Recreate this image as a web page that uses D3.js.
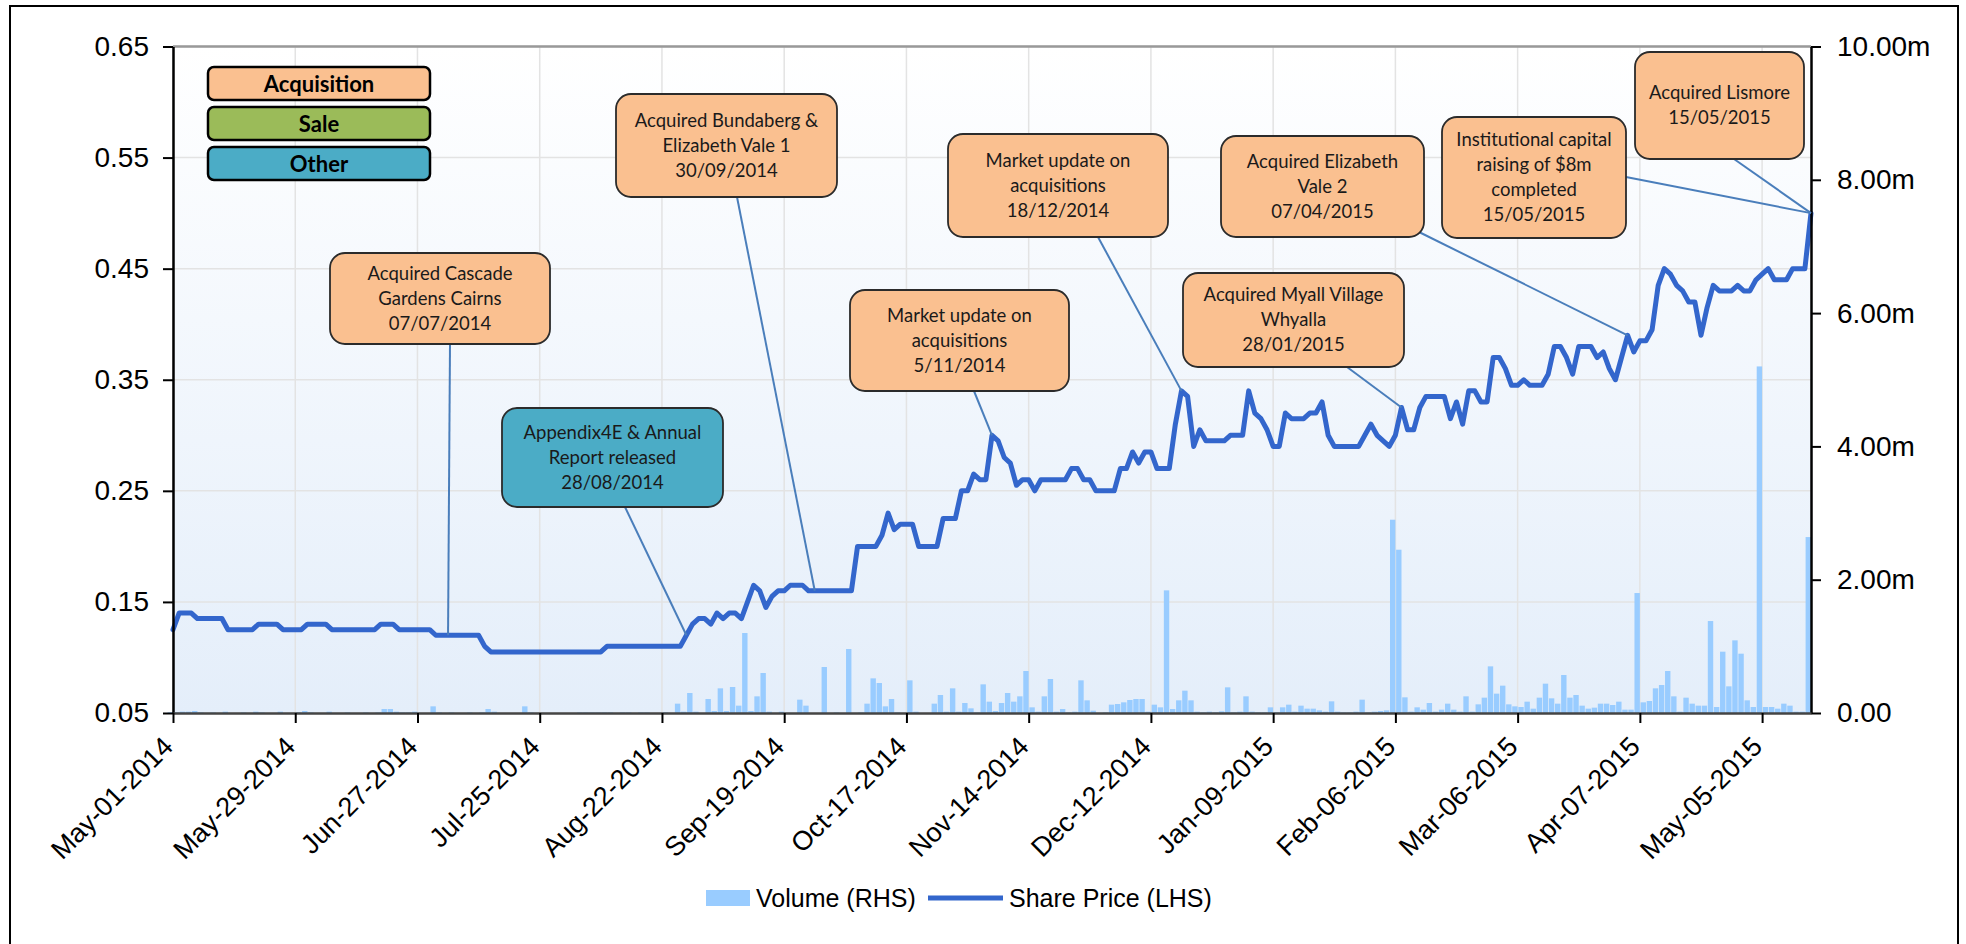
<!DOCTYPE html>
<html>
<head>
<meta charset="utf-8">
<script src="https://cdn.jsdelivr.net/npm/d3@7"></script>
<style>
  body { margin: 0; background: #fff; }
  svg { display: block; }
</style>
</head>
<body>
<svg id="chart"></svg>
<script>
const width = 1966;
const height = 944;

// trading-day series, May-01-2014 .. May-15-2015 (one value per trading day)
const sharePrice = [
  .125, .14, .14, .14, .135, .135, .135, .135, .135, .125,
  .125, .125, .125, .125, .13, .13, .13, .13, .125, .125,
  .125, .125, .13, .13, .13, .13, .125, .125, .125, .125,
  .125, .125, .125, .125, .13, .13, .13, .125, .125, .125,
  .125, .125, .125, .12, .12, .12, .12, .12, .12, .12,
  .12, .11, .105, .105, .105, .105, .105, .105, .105, .105,
  .105, .105, .105, .105, .105, .105, .105, .105, .105, .105,
  .105, .11, .11, .11, .11, .11, .11, .11, .11, .11,
  .11, .11, .11, .11, .12, .13, .135, .135, .13, .14,
  .135, .14, .14, .135, .15, .165, .16, .145, .155, .16,
  .16, .165, .165, .165, .16, .16, .16, .16, .16, .16,
  .16, .16, .2, .2, .2, .2, .21, .23, .215, .22,
  .22, .22, .2, .2, .2, .2, .225, .225, .225, .25,
  .25, .265, .26, .26, .3, .295, .28, .275, .255, .26,
  .26, .25, .26, .26, .26, .26, .26, .27, .27, .26,
  .26, .25, .25, .25, .25, .27, .27, .285, .275, .285,
  .285, .27, .27, .27, .31, .34, .335, .29, .305, .295,
  .295, .295, .295, .30, .30, .30, .34, .32, .315, .305,
  .29, .29, .32, .315, .315, .315, .32, .32, .33, .30,
  .29, .29, .29, .29, .29, .30, .31, .30, .295, .29,
  .30, .325, .305, .305, .325, .335, .335, .335, .335, .315,
  .33, .31, .34, .34, .33, .33, .37, .37, .36, .345,
  .345, .35, .345, .345, .345, .355, .38, .38, .37, .355,
  .38, .38, .38, .37, .375, .36, .35, .37, .39, .375,
  .385, .385, .395, .435, .45, .445, .435, .43, .42, .42,
  .39, .415, .435, .43, .43, .43, .435, .43, .43, .44,
  .445, .45, .44, .44, .44, .45, .45, .45, .50
];

// volume in millions of shares
const volume = [
  .01, .01, .02, .02, .03, .01, 0, .01, 0, .02,
  0, 0, .01, 0, .02, .01, 0, 0, .02, 0,
  0, .01, .03, .01, 0, 0, .02, 0, 0, .01,
  0, 0, .01, 0, .01, .06, .06, .02, .01, .01,
  .02, 0, 0, .1, .01, 0, .01, 0, 0, .01,
  0, .01, .06, .02, 0, 0, 0, 0, .1, .01,
  0, 0, 0, 0, 0, 0, 0, .01, .01, .01,
  .01, .01, .01, 0, .01, .01, 0, .01, .01, 0,
  0, .01, 0, .14, .02, .3, .02, 0, .21, .03,
  .37, .03, .39, .11, 1.2, .03, .25, .6, .02, 0,
  .02, 0, 0, .2, .11, 0, 0, .69, 0, .01,
  0, .96, 0, .01, .14, .52, .45, .1, .21, .01,
  0, .49, .02, 0, 0, .14, .27, .02, .37, .02,
  .15, .07, .01, .43, .17, .03, .15, .3, .17, .25,
  .63, .085, .02, .25, .51, .02, .06, .01, .02, .49,
  .19, .035, 0, .01, .125, .135, .16, .195, .21, .21,
  .02, .125, .085, 1.84, .06, .19, .335, .19, .02, .01,
  .02, .01, .025, .385, .01, .02, .25, .02, .01, .01,
  .085, .01, .085, .125, .02, .11, .065, .065, .04, .02,
  .175, .02, .01, .01, .02, .2, .01, .02, .03, .04,
  2.9, 2.45, .235, .02, .085, .05, .15, .02, .05, .14,
  .05, .02, .25, .02, .13, .23, .7, .29, .41, .13,
  .1, .09, .17, .065, .23, .44, .22, .14, .57, .23,
  .27, .11, .065, .08, .14, .14, .12, .17, .05, .05,
  1.8, .16, .18, .37, .42, .63, .25, .02, .23, .14,
  .11, .11, 1.38, .09, .92, .4, 1.09, .89, .19, .09,
  5.2, .09, .09, .065, .14, .11, .02, .02, 2.64
];

const dateTickLabels = ['May-01-2014', 'May-29-2014', 'Jun-27-2014', 'Jul-25-2014', 'Aug-22-2014',
  'Sep-19-2014', 'Oct-17-2014', 'Nov-14-2014', 'Dec-12-2014', 'Jan-09-2015', 'Feb-06-2015',
  'Mar-06-2015', 'Apr-07-2015', 'May-05-2015'];
const dateTickIndex = [0, 20, 40, 60, 80, 100, 120, 140, 160, 180, 200, 220, 240, 260];
const priceTicks = [0.05, 0.15, 0.25, 0.35, 0.45, 0.55, 0.65];
const volumeTicks = [0, 2, 4, 6, 8, 10];

const categories = ['Acquisition', 'Sale', 'Other'];
const categoryColor = { Acquisition: '#FAC090', Sale: '#9BBB59', Other: '#4BACC6' };

// events: text lines, category, trading-day index the pointer lands on
const eventLines = [
  ['Acquired Cascade', 'Gardens Cairns', '07/07/2014'],
  ['Appendix4E & Annual', 'Report released', '28/08/2014'],
  ['Acquired Bundaberg &', 'Elizabeth Vale 1', '30/09/2014'],
  ['Market update on', 'acquisitions', '5/11/2014'],
  ['Market update on', 'acquisitions', '18/12/2014'],
  ['Acquired Myall Village', 'Whyalla', '28/01/2015'],
  ['Acquired Elizabeth', 'Vale 2', '07/04/2015'],
  ['Institutional capital', 'raising of $8m', 'completed', '15/05/2015'],
  ['Acquired Lismore', '15/05/2015']
];
const eventType = ['Acquisition', 'Other', 'Acquisition', 'Acquisition', 'Acquisition',
  'Acquisition', 'Acquisition', 'Acquisition', 'Acquisition'];
const eventIndex = [45, 84, 105, 134, 165, 201, 238, 268, 268];

// callout box placement (pixels) and where the pointer leaves the box
const calloutBox = [
  { x: 330, y: 253, w: 220, h: 91, ax: 450, ay: 344 },
  { x: 502, y: 408, w: 221, h: 99, ax: 625, ay: 507 },
  { x: 616, y: 94, w: 221, h: 103, ax: 737, ay: 197 },
  { x: 850, y: 290, w: 219, h: 101, ax: 974, ay: 391 },
  { x: 948, y: 134, w: 220, h: 103, ax: 1098, ay: 237 },
  { x: 1183, y: 273, w: 221, h: 94, ax: 1347, ay: 367 },
  { x: 1221, y: 136, w: 203, h: 101, ax: 1419, ay: 232 },
  { x: 1442, y: 117, w: 184, h: 121, ax: 1626, ay: 177 },
  { x: 1635, y: 52, w: 169, h: 107, ax: 1734, ay: 159 }
];

const plot = { left: 173, right: 1811, top: 46.5, bottom: 713 };
const axisFont = '"Liberation Sans", Arial, sans-serif';
const boxFont = 'Lato, "Open Sans", sans-serif';

const svg = d3.select('#chart').attr('width', width).attr('height', height);

const x = d3.scaleLinear().domain([0, sharePrice.length - 1]).range([plot.left, plot.right]);
const yPrice = d3.scaleLinear().domain([0.05, 0.65]).range([plot.bottom, plot.top]);
const yVol = d3.scaleLinear().domain([0, 10]).range([plot.bottom, plot.top]);

// outer frame
svg.append('rect')
  .attr('x', 10).attr('y', 6).attr('width', 1948).attr('height', 960)
  .attr('fill', '#fff').attr('stroke', '#000').attr('stroke-width', 2);

// plot background gradient
const grad = svg.append('defs').append('linearGradient')
  .attr('id', 'bg').attr('x1', 0).attr('y1', 0).attr('x2', 0).attr('y2', 1);
grad.append('stop').attr('offset', '0%').attr('stop-color', '#FFFFFF');
grad.append('stop').attr('offset', '100%').attr('stop-color', '#E4EEFA');

svg.append('rect')
  .attr('x', plot.left).attr('y', plot.top)
  .attr('width', plot.right - plot.left).attr('height', plot.bottom - plot.top)
  .attr('fill', 'url(#bg)');

// grid
svg.append('g').selectAll('line.h').data(priceTicks).enter().append('line')
  .attr('x1', plot.left).attr('x2', plot.right)
  .attr('y1', d => yPrice(d)).attr('y2', d => yPrice(d))
  .attr('stroke', '#E3E3E3').attr('stroke-width', 1.5);
svg.append('g').selectAll('line.v').data(dateTickIndex).enter().append('line')
  .attr('x1', d => x(d)).attr('x2', d => x(d))
  .attr('y1', plot.top).attr('y2', plot.bottom)
  .attr('stroke', '#E3E3E3').attr('stroke-width', 1.5);

// volume bars
const barW = 5.4;
svg.append('g').selectAll('rect').data(volume).enter().append('rect')
  .attr('x', (d, i) => x(i) - barW)
  .attr('width', barW)
  .attr('y', d => yVol(d))
  .attr('height', d => yVol(0) - yVol(d))
  .attr('fill', '#99CCFF');

// share price line
const line = d3.line()
  .x((d, i) => x(i))
  .y(d => yPrice(d));
svg.append('path')
  .datum(sharePrice)
  .attr('d', line)
  .attr('fill', 'none')
  .attr('stroke', '#3366CC')
  .attr('stroke-width', 5)
  .attr('stroke-linejoin', 'round')
  .attr('stroke-linecap', 'round');

// top border of plot
svg.append('line')
  .attr('x1', plot.left).attr('x2', plot.right)
  .attr('y1', plot.top).attr('y2', plot.top)
  .attr('stroke', '#999').attr('stroke-width', 2.5);

// axes
const leftAxis = svg.append('g')
  .attr('transform', `translate(${plot.left},0)`)
  .call(d3.axisLeft(yPrice).tickValues(priceTicks).tickFormat(d3.format('.2f'))
    .tickSize(10).tickSizeOuter(0).tickPadding(14));

const rightAxis = svg.append('g')
  .attr('transform', `translate(${plot.right},0)`)
  .call(d3.axisRight(yVol).tickValues(volumeTicks)
    .tickFormat(d => d === 0 ? '0.00' : d3.format('.2f')(d) + 'm')
    .tickSize(10).tickSizeOuter(0).tickPadding(16));

const bottomAxis = svg.append('g')
  .attr('transform', `translate(0,${plot.bottom})`)
  .call(d3.axisBottom(x).tickValues(dateTickIndex)
    .tickFormat((d, i) => dateTickLabels[i])
    .tickSize(10).tickSizeOuter(0));

bottomAxis.selectAll('text')
  .attr('text-anchor', 'end')
  .attr('dx', 0).attr('dy', 0)
  .attr('transform', 'translate(-8,26) rotate(-45)');

[leftAxis, rightAxis, bottomAxis].forEach(g => {
  g.selectAll('text').attr('font-family', axisFont).attr('font-size', 28).attr('fill', '#000');
  g.selectAll('.tick line').attr('stroke', '#000').attr('stroke-width', 2);
  g.select('.domain').attr('stroke', '#000').attr('stroke-width', 2.5);
});
bottomAxis.selectAll('text').attr('font-size', 27);
bottomAxis.select('.domain').attr('stroke', '#444');

// event pointers
svg.append('g').selectAll('line').data(calloutBox).enter().append('line')
  .attr('x1', d => d.ax).attr('y1', d => d.ay)
  .attr('x2', (d, i) => x(eventIndex[i]))
  .attr('y2', (d, i) => yPrice(sharePrice[eventIndex[i]]))
  .attr('stroke', '#4A7EBB').attr('stroke-width', 2);

// event boxes
const boxes = svg.append('g').selectAll('g').data(calloutBox).enter().append('g');
boxes.append('rect')
  .attr('x', d => d.x).attr('y', d => d.y)
  .attr('width', d => d.w).attr('height', d => d.h)
  .attr('rx', 15).attr('ry', 15)
  .attr('fill', (d, i) => categoryColor[eventType[i]])
  .attr('stroke', '#2b2b2b').attr('stroke-width', 1.8);
boxes.each(function (d, i) {
  const lines = eventLines[i];
  const lh = 25;
  const cy = d.y + d.h / 2 - (lines.length - 1) * lh / 2;
  const t = d3.select(this).append('text')
    .attr('font-family', boxFont).attr('font-size', 18.5)
    .attr('fill', '#1a1a1a').attr('text-anchor', 'middle');
  lines.forEach((s, k) => {
    t.append('tspan')
      .attr('x', d.x + d.w / 2)
      .attr('y', cy + k * lh)
      .attr('dy', '0.35em')
      .text(s);
  });
});

// category key (top left)
const key = svg.append('g').selectAll('g').data(categories).enter().append('g')
  .attr('transform', (d, i) => `translate(208,${67 + i * 40})`);
key.append('rect')
  .attr('width', 222).attr('height', 33).attr('rx', 6)
  .attr('fill', d => categoryColor[d])
  .attr('stroke', '#000').attr('stroke-width', 2.5);
key.append('text')
  .attr('x', 111).attr('y', 17).attr('dy', '0.35em')
  .attr('text-anchor', 'middle')
  .attr('font-family', boxFont).attr('font-weight', 'bold').attr('font-size', 22)
  .attr('fill', '#000')
  .text(d => d);

// series legend (bottom)
const legend = svg.append('g');
legend.append('rect')
  .attr('x', 706).attr('y', 890).attr('width', 44).attr('height', 16)
  .attr('fill', '#99CCFF');
legend.append('text')
  .attr('x', 756).attr('y', 898).attr('dy', '0.35em')
  .attr('font-family', axisFont).attr('font-size', 25)
  .text('Volume (RHS)');
legend.append('line')
  .attr('x1', 928).attr('x2', 1003).attr('y1', 898).attr('y2', 898)
  .attr('stroke', '#3366CC').attr('stroke-width', 5);
legend.append('text')
  .attr('x', 1009).attr('y', 898).attr('dy', '0.35em')
  .attr('font-family', axisFont).attr('font-size', 25)
  .text('Share Price (LHS)');
</script>
</body>
</html>
